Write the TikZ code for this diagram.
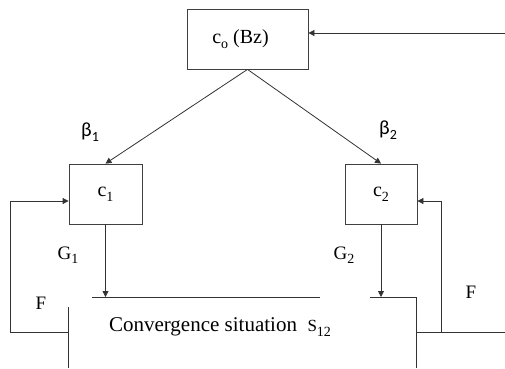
\documentclass[tikz,border=0pt]{standalone}
\usepackage{fontspec}
\setmainfont{Liberation Serif}
\newfontfamily\greekfont{Carlito}
\usetikzlibrary{arrows.meta,positioning,calc}
\newcommand{\lowsub}[1]{\raisebox{-0.5ex}{\fontsize{14}{14}\selectfont #1}}

\begin{document}
\begin{tikzpicture}[x=1pt,y=-1pt,
    box/.style={rectangle, draw=black!75, line width=0.8pt, inner sep=0pt,
        font=\fontsize{20}{23}\selectfont},
    lbl/.style={font=\fontsize{19}{22}\selectfont, inner sep=0pt},
    arr/.style={-{Triangle[length=6pt,width=6pt]}, line width=0.8pt, black!80},
    ln/.style={line width=0.8pt, black!80}
]
    \useasboundingbox (0,0) rectangle (505,368);

    \node[box, minimum width=121pt, minimum height=60pt] (co) at (247.5,39) {c\lowsub{o} (Bz)\hspace*{14pt}};
    \node[box, minimum width=73pt, minimum height=60pt] (c1) at (105.5,194) {c\lowsub{1}};
    \node[box, minimum width=72pt, minimum height=60pt] (c2) at (381,194) {c\lowsub{2}};

    % open box of the convergence situation
    \coordinate (tl) at (92,297);
    \coordinate (tm1) at (320,297);
    \coordinate (tm2) at (370,297);
    \coordinate (tr) at (416,297);
    \coordinate (br) at (416,368);
    \coordinate (lt) at (68,307);
    \coordinate (lb) at (68,368);
    \draw[ln] (tl) -- (tm1);
    \draw[ln] (tm2) -- (tr) -- (br);
    \draw[ln] (lt) -- (lb);
    \node[lbl, font=\fontsize{21}{24}\selectfont] (conv) at (220,327) {Convergence situation\ \ {\fontsize{17}{17}\selectfont S}\lowsub{12}};

    % labels
    \node[lbl, font=\greekfont\fontsize{20}{23}\selectfont] (b1) at (90,132) {β\lowsub{1}};
    \node[lbl, font=\greekfont\fontsize{20}{23}\selectfont] (b2) at (388,130) {β\lowsub{2}};
    \node[lbl] (g1) at (68,255) {G\lowsub{1}};
    \node[lbl] (g2) at (344,255) {G\lowsub{2}};
    \node[lbl] (f1) at (41,303) {F};
    \node[lbl] (f2) at (471,292) {F};

    % connectors
    \coordinate (in) at (505,33);
    \draw[arr] (in) -- (in -| co.east);
    \draw[arr] (co.south) -- (c1.north);
    \draw[arr] (co.south) -- (c2.north);
    \draw[arr] (c1.south) -- (c1.south |- tl);
    \draw[arr] (c2.south) -- (c2.south |- tl);

    \coordinate (fbl) at (68,332);
    \coordinate (fl) at (10,201);
    \draw[arr] (fbl) -| (fl) -- (fl -| c1.west);

    \coordinate (fbr) at (416,332);
    \coordinate (out) at (505,332);
    \coordinate (br2) at (441,332);
    \coordinate (fr) at (441,201);
    \draw[ln] (fbr) -- (out);
    \draw[arr] (br2) -- (fr) -- (fr -| c2.east);
\end{tikzpicture}
\end{document}
